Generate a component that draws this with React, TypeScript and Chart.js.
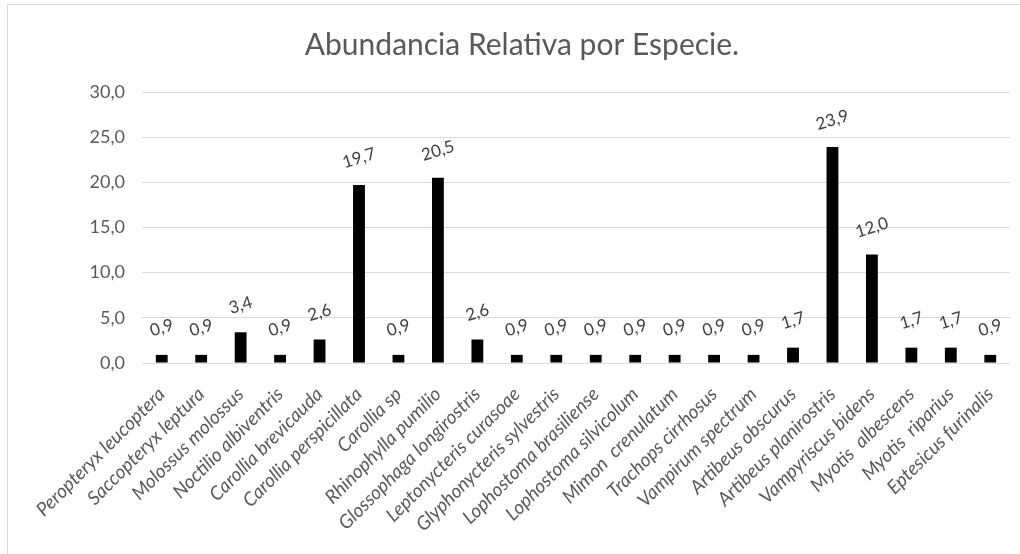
import React, { useEffect, useRef } from "react";
import { Chart, registerables } from "chart.js";

Chart.register(...registerables);

const categories = [
  "Peropteryx leucoptera",
  "Saccopteryx leptura",
  "Molossus molossus",
  "Noctilio albiventris",
  "Carollia brevicauda",
  "Carollia perspicillata",
  "Carollia sp",
  "Rhinophylla pumilio",
  "Glossophaga longirostris",
  "Leptonycteris curasoae",
  "Glyphonycteris sylvestris",
  "Lophostoma brasiliense",
  "Lophostoma silvicolum",
  "Mimon  crenulatum",
  "Trachops cirrhosus",
  "Vampirum spectrum",
  "Artibeus obscurus",
  "Artibeus planirostris",
  "Vampyriscus bidens",
  "Myotis  albescens",
  "Myotis  riparius",
  "Eptesicus furinalis",
];

const abundance = [
  0.9, 0.9, 3.4, 0.9, 2.6, 19.7, 0.9, 20.5, 2.6, 0.9, 0.9, 0.9, 0.9, 0.9, 0.9,
  0.9, 1.7, 23.9, 12.0, 1.7, 1.7, 0.9,
];

const yTicks = [0, 5, 10, 15, 20, 25, 30];

const titleText = "Abundancia Relativa por Especie.";

const fmt = (v: number) => v.toFixed(1).replace(".", ",");

const FONT = "Lato, 'Open Sans', sans-serif";

const dataLabelPlugin = {
  id: "rotatedDataLabels",
  afterDatasetsDraw(chart: any) {
    const ctx = chart.ctx;
    const meta = chart.getDatasetMeta(0);
    ctx.save();
    ctx.fillStyle = "#404040";
    ctx.font = `17px ${FONT}`;
    ctx.textAlign = "center";
    ctx.textBaseline = "middle";
    meta.data.forEach((bar: any, i: number) => {
      const v = chart.data.datasets[0].data[i];
      ctx.save();
      ctx.translate(bar.x, bar.y - 27);
      ctx.rotate((-17 * Math.PI) / 180);
      ctx.fillText(fmt(v), 0, 0);
      ctx.restore();
    });
    ctx.restore();
  },
};

const titlePlugin = {
  id: "customTitle",
  afterDraw(chart: any) {
    const ctx = chart.ctx;
    ctx.save();
    ctx.fillStyle = "#595959";
    ctx.font = `30px ${FONT}`;
    ctx.textAlign = "center";
    ctx.textBaseline = "middle";
    ctx.fillText(titleText, 522, 45);
    ctx.restore();
  },
};

export default function App() {
  const ref = useRef<HTMLCanvasElement | null>(null);

  useEffect(() => {
    if (!ref.current) return;
    const chart = new Chart(ref.current, {
      type: "bar",
      data: {
        labels: categories,
        datasets: [
          {
            data: abundance,
            backgroundColor: "#000000",
            borderWidth: 0,
            categoryPercentage: 1,
            barPercentage: 0.3,
          },
        ],
      },
      options: {
        animation: false,
        responsive: false,
        maintainAspectRatio: false,
        layout: { padding: { left: 0, right: 10, top: 92, bottom: 0 } },
        plugins: {
          legend: { display: false },
          title: { display: false },
          tooltip: { enabled: false },
        },
        scales: {
          y: {
            min: 0,
            max: 30,
            afterBuildTicks(scale: any) {
              scale.ticks = yTicks.map((v) => ({ value: v }));
            },
            afterFit(scale: any) {
              scale.width = 142;
            },
            border: { display: false },
            grid: { color: "#d9d9d9", lineWidth: 1, drawTicks: false },
            ticks: {
              padding: 17,
              color: "#595959",
              font: { family: FONT, size: 18 },
              callback: (v: any) => fmt(Number(v)),
            },
          },
          x: {
            afterFit(scale: any) {
              scale.height = 191;
            },
            border: { display: false },
            grid: { display: false },
            ticks: {
              autoSkip: false,
              maxRotation: 45,
              minRotation: 45,
              padding: 12,
              color: "#595959",
              font: { family: FONT, size: 19, style: "italic" },
            },
          },
        },
      },
      plugins: [dataLabelPlugin, titlePlugin],
    });
    return () => chart.destroy();
  }, []);

  return (
    <div
      style={{
        position: "absolute",
        left: 0,
        top: 0,
        width: 1020,
        height: 554,
        background: "#ffffff",
        overflow: "hidden",
      }}
    >
      <div
        style={{
          position: "absolute",
          left: 7,
          top: 4,
          width: 1100,
          height: 700,
          border: "1px solid #d9d9d9",
          boxSizing: "border-box",
        }}
      />
      <canvas
        ref={ref}
        width={1020}
        height={554}
        style={{ position: "absolute", left: 0, top: 0, width: 1020, height: 554 }}
      />
    </div>
  );
}
